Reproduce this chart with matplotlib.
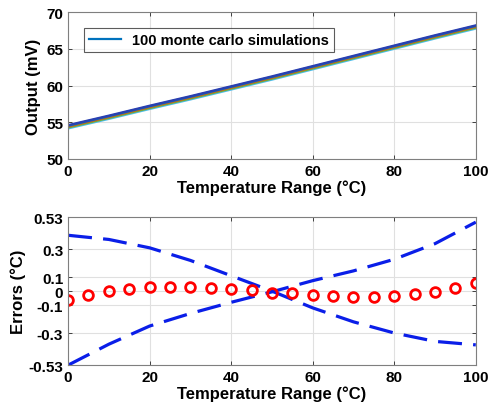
import matplotlib
matplotlib.use("Agg")
import matplotlib.pyplot as plt

plt.rcParams['font.family'] = ['Liberation Sans', 'DejaVu Sans']
plt.rcParams['font.weight'] = 'bold'

# Top panel: monte carlo output curves
temp_mc = [0, 10, 20, 30, 40, 50, 60, 70, 80, 90, 100]
mc_dark = [54.60, 55.90, 57.25, 58.55, 59.90, 61.25, 62.65, 64.05, 65.45, 66.85, 68.20]
mc_blue = [54.52, 55.82, 57.17, 58.47, 59.82, 61.17, 62.57, 63.97, 65.37, 66.77, 68.12]
mc_red = [54.42, 55.72, 57.07, 58.37, 59.72, 61.07, 62.47, 63.87, 65.27, 66.67, 68.02]
mc_green = [54.28, 55.58, 56.93, 58.23, 59.58, 60.93, 62.33, 63.73, 65.13, 66.53, 67.88]
mc_cyan = [54.15, 55.45, 56.80, 58.10, 59.45, 60.80, 62.20, 63.60, 65.00, 66.40, 67.75]
mc_series = [mc_cyan, mc_green, mc_red, mc_blue, mc_dark]
mc_colors = ['#4DBEEE', '#77AC30', '#D95319', '#0072BD', '#2a3fb0']

# Bottom panel: error bounds and errors
temp_bound = [0, 10, 20, 30, 40, 50, 60, 70, 80, 90, 100]
upper_bound = [0.40, 0.37, 0.31, 0.22, 0.11, -0.00, -0.12, -0.22, -0.30, -0.36, -0.385]
lower_bound = [-0.53, -0.38, -0.25, -0.16, -0.08, -0.005, 0.075, 0.145, 0.228, 0.34, 0.494]
temp_err = [0, 5, 10, 15, 20, 25, 30, 35, 40, 45, 50, 55, 60, 65, 70, 75, 80, 85, 90, 95, 100]
errors = [-0.065, -0.029, 0.0, 0.015, 0.027, 0.031, 0.031, 0.024, 0.015, 0.01, -0.01,
          -0.017, -0.029, -0.034, -0.039, -0.039, -0.034, -0.024, -0.007, 0.02, 0.058]
err_ticks = [-0.53, -0.3, -0.1, 0, 0.1, 0.3, 0.53]
err_ticklabels = ['-0.53', '-0.3', '-0.1', '0', '0.1', '0.3', '0.53']

fig = plt.figure(figsize=(4.9, 4.1), dpi=100)
ax1 = fig.add_axes([0.139, 0.61, 0.832, 0.358])
ax2 = fig.add_axes([0.139, 0.107, 0.832, 0.361])

for i, (s, c) in enumerate(zip(mc_series, mc_colors)):
    ax1.plot(temp_mc, s, color=c, lw=1.6,
             label='100 monte carlo simulations' if i == 3 else None)
ax1.set_xlim(0, 100)
ax1.set_ylim(50, 70)
ax1.set_yticks([50, 55, 60, 65, 70])
ax1.set_xticks([0, 20, 40, 60, 80, 100])
ax1.set_ylabel('Output (mV)', fontsize=12, fontweight='bold', labelpad=4)
ax1.set_xlabel('Temperature Range (°C)', fontsize=12, fontweight='bold', labelpad=1)
leg = ax1.legend(loc='upper left', fontsize=10.5, frameon=True, fancybox=False,
                 edgecolor='#333333', handlelength=2.2, borderpad=0.35,
                 bbox_to_anchor=(0.02, 0.94))
leg.get_frame().set_linewidth(0.8)
for t in leg.get_texts():
    t.set_fontweight('bold')

ax2.plot(temp_bound, upper_bound, color='#0a1ee8', lw=2.3, ls=(0, (7.5, 3.5)))
ax2.plot(temp_bound, lower_bound, color='#0a1ee8', lw=2.3, ls=(0, (7.5, 3.5)))
ax2.plot(temp_err, errors, ls='none', marker='o', ms=7, mfc='none', mec='#ff0000', mew=2)
ax2.set_xlim(0, 100)
ax2.set_ylim(-0.53, 0.53)
ax2.set_yticks(err_ticks)
ax2.set_yticklabels(err_ticklabels)
ax2.set_xticks([0, 20, 40, 60, 80, 100])
ax2.set_ylabel('Errors (°C)', fontsize=12, fontweight='bold', labelpad=2)
ax2.set_xlabel('Temperature Range (°C)', fontsize=12, fontweight='bold', labelpad=1)

for ax in (ax1, ax2):
    ax.grid(True, color='#e0e0e0', lw=0.8)
    ax.set_axisbelow(True)
    ax.tick_params(direction='in', length=3, labelsize=11, colors='#262626',
                   top=True, right=True, width=0.6)
    for lab in ax.get_xticklabels() + ax.get_yticklabels():
        lab.set_fontweight('bold')
        lab.set_color('black')
    for sp in ax.spines.values():
        sp.set_color('#7f7f7f')
        sp.set_linewidth(0.8)

fig.savefig('out.png', dpi=100)
